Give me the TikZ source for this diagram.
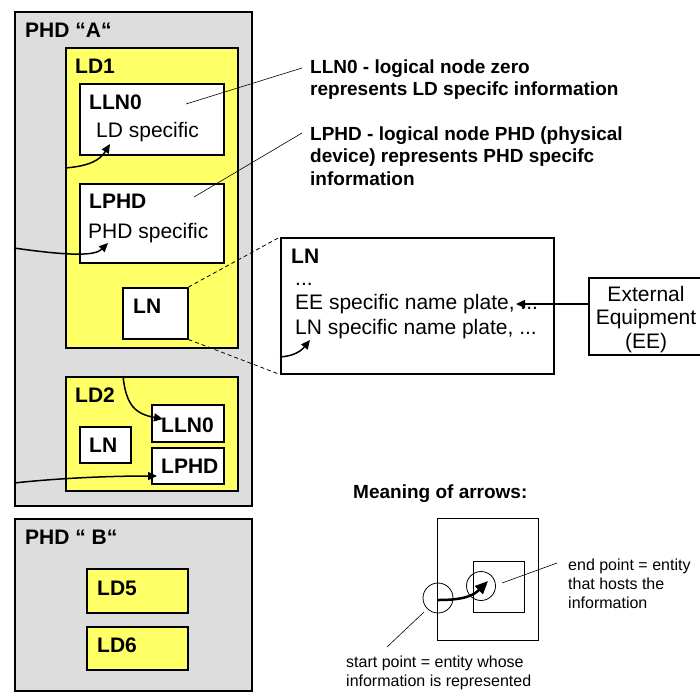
\documentclass[tikz,border=0pt]{standalone}
\usepackage{fontspec}
\setmainfont{Liberation Sans}
\usetikzlibrary{arrows.meta}

\definecolor{phdgray}{RGB}{221,221,221}
\definecolor{ldyellow}{RGB}{255,255,102}

\newcommand{\boxfont}{\fontsize{21}{24.5}\selectfont}
\newcommand{\eefont}{\fontsize{21}{23.5}\selectfont}
\newcommand{\notefont}{\fontsize{19}{22.5}\selectfont}
\newcommand{\keyfont}{\fontsize{16}{19}\selectfont}
\newcommand{\lines}[1]{\begin{tabular}[t]{@{}l@{}}#1\end{tabular}}

\tikzset{
  box/.style={draw, line width=1.5pt, inner sep=0pt, anchor=north west},
  phd/.style={box, fill=phdgray},
  ld/.style={box, fill=ldyellow},
  ln/.style={box, fill=white},
  lbl/.style={anchor=base west, inner sep=0pt, font=\boxfont\bfseries},
  txt/.style={anchor=base west, inner sep=0pt, font=\boxfont},
  note/.style={anchor=base west, inner sep=0pt, font=\notefont\bfseries},
  keytxt/.style={anchor=base west, inner sep=0pt, font=\keyfont},
  leader/.style={line width=0.6pt},
  zoomline/.style={line width=0.8pt, dash pattern=on 4pt off 3pt},
  link/.style={line width=1.5pt, -{Triangle[length=9pt,width=8pt]}}
}

\begin{document}
\begin{tikzpicture}[x=1pt, y=-1pt]
  \useasboundingbox (0,0) rectangle (700,691);

  % physical device A
  \node[phd, minimum width=237pt, minimum height=494pt] (phdA) at (14,11) {};
  \node[ld, minimum width=172pt, minimum height=300pt] (ld1) at (65,47) {};
  \node[ln, minimum width=144pt, minimum height=71pt] (lln0A) at (79,83) {};
  \node[ln, minimum width=144pt, minimum height=79pt] (lphdA) at (79,183) {};
  \node[ln, minimum width=65pt, minimum height=51pt] (lnA) at (122,287) {};
  \node[ld, minimum width=172pt, minimum height=114pt] (ld2) at (65,376) {};
  \node[ln, minimum width=72pt, minimum height=37pt] (lln0B) at (151,404) {};
  \node[ln, minimum width=72pt, minimum height=36pt] (lphdB) at (151,447) {};
  \node[ln, minimum width=51pt, minimum height=36pt] (lnB) at (79,426) {};

  % physical device B
  \node[phd, minimum width=237pt, minimum height=172pt] (phdB) at (14,518) {};
  \node[ld, minimum width=101pt, minimum height=44pt] (ld5) at (86,568) {};
  \node[ld, minimum width=101pt, minimum height=43pt] (ld6) at (86,626) {};

  % logical node in detail
  \node[ln, minimum width=273pt, minimum height=136pt] (lnbig) at (280,237) {};
  \node[ln, minimum width=116pt, minimum height=77pt] (ee) at (588,277) {};

  % labels
  \node[lbl] (tphdA) at (25,37) {PHD “A“};
  \node[lbl] (tld1) at (75,73) {LD1};
  \node[lbl] (tlln0A) at (89,109) {LLN0};
  \node[txt] (tldspec) at (96,137) {LD specific};
  \node[lbl] (tlphdA) at (89,208) {LPHD};
  \node[txt] (tphdspec) at (88,238) {PHD specific};
  \node[lbl] (tlnA) at (133,313) {LN};
  \node[lbl] (tld2) at (75,402) {LD2};
  \node[lbl] (tlln0B) at (161,432) {LLN0};
  \node[lbl] (tlnB) at (89,452) {LN};
  \node[lbl] (tlphdB) at (161,473) {LPHD};
  \node[lbl] (tphdB) at (25,544) {PHD “ B“};
  \node[lbl] (tld5) at (97,595) {LD5};
  \node[lbl] (tld6) at (97,652) {LD6};

  \node[lbl] (tlnbig) at (291,263) {LN};
  \node[txt] (tlnlines) at (295,285) {\lines{...\\EE specific name plate, ...\\LN specific name plate, ...}};
  \node[anchor=base, inner sep=0pt, font=\eefont] (tee) at (646,301)
    {\begin{tabular}[t]{@{}c@{}}External\\Equipment\\(EE)\end{tabular}};

  % notes
  \node[note] (note1) at (310,73) {\lines{LLN0 - logical node zero\\represents LD specifc information}};
  \node[note] (note2) at (310,140) {\lines{LPHD - logical node PHD (physical\\device) represents PHD specifc\\information}};
  \coordinate (n1a) at (186,104);
  \coordinate (n1b) at (302,68);
  \coordinate (n2a) at (194,197);
  \coordinate (n2b) at (302,133);
  \draw[leader] (n1a) -- (n1b);
  \draw[leader] (n2a) -- (n2b);

  % zoom lines
  \draw[zoomline] (lnA.north east) -- (lnbig.north west);
  \draw[zoomline] (lnA.south east) -- (lnbig.south west);

  % arrows
  \coordinate (a1s) at (65,168);
  \coordinate (a1e) at (110,144);
  \coordinate (a2s) at (14,248);
  \coordinate (a2e) at (108,243);
  \coordinate (a3s) at (123,376);
  \coordinate (a3e) at (163,419);
  \coordinate (a4s) at (14,483);
  \coordinate (a4e) at (157,476);
  \coordinate (a5s) at (280,357);
  \coordinate (a5e) at (310,340);
  \coordinate (a6e) at (516,304);
  \draw[link] (a1s) .. controls (90,166) and (100,160) .. (a1e);
  \draw[link] (a2s) .. controls (70,256) and (95,256) .. (a2e);
  \draw[link] (a3s) .. controls (126,406) and (136,414) .. (a3e);
  \draw[link] (a4s) .. controls (60,478) and (110,476) .. (a4e);
  \draw[link] (a5s) .. controls (295,356) and (302,350) .. (a5e);
  \draw[link] (ee.west |- a6e) -- (a6e);

  % meaning of arrows
  \node[anchor=base west, inner sep=0pt, font=\notefont\bfseries] (tkey) at (353,498) {Meaning of arrows:};
  \node[box, line width=1pt, minimum width=101pt, minimum height=122pt] (outer) at (437,518) {};
  \node[box, line width=1pt, minimum width=51pt, minimum height=51pt] (inner) at (473,561) {};
  \node[circle, draw, line width=0.8pt, minimum size=30pt, inner sep=0pt] (c1) at (438,598) {};
  \node[circle, draw, line width=0.8pt, minimum size=29pt, inner sep=0pt] (c2) at (481,586) {};
  \coordinate (ks) at (438,600);
  \coordinate (ke) at (488,581);
  \draw[line width=2.5pt, -{Triangle[length=13pt,width=11pt]}] (ks) .. controls (460,600) and (472,597) .. (ke);
  \coordinate (k1a) at (502,583);
  \coordinate (k1b) at (557,563);
  \coordinate (k2a) at (424,612);
  \coordinate (k2b) at (387,647);
  \draw[leader] (k1a) -- (k1b);
  \draw[leader] (k2a) -- (k2b);
  \node[keytxt] (tend) at (568,570) {\lines{end point = entity\\that hosts the\\information}};
  \node[keytxt] (tstart) at (346,667) {\lines{start point = entity whose\\information is represented}};
\end{tikzpicture}
\end{document}
